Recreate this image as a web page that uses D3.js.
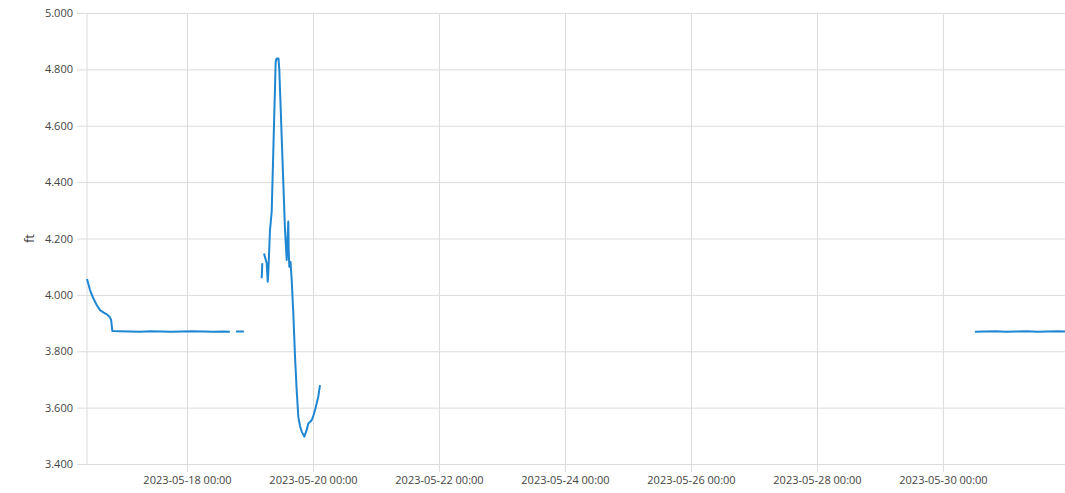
<!DOCTYPE html>
<meta charset="utf-8">
<html>
<head>
  <title>Water level</title>
  <style>
    body { margin: 0; background: #fff; }
    svg { display: block; }
    .tick text {
      font-family: 'Open Sans', 'Noto Sans', sans-serif;
      font-size: 11px;
      fill: #444;
    }
    .grid line { stroke: #dcdcdc; stroke-width: 1px; }
    .grid path { display: none; }
    #line {
      fill: none;
      stroke: #1f87d2;
      stroke-width: 2px;
      stroke-linejoin: round;
    }
  </style>
  <script src="https://d3js.org/d3.v7.min.js"></script>
</head>
<body>
  <svg width="1065" height="493"></svg>
  <script>
    // readings (null = gap in the record)
    var times = [
      "2023-05-16 09:54", "2023-05-16 11:03", "2023-05-16 12:18", "2023-05-16 13:36",
      "2023-05-16 14:51", "2023-05-16 16:07", "2023-05-16 17:25", "2023-05-16 18:24",
      "2023-05-16 19:03", "2023-05-16 19:19", "2023-05-16 19:32", "2023-05-16 22:00",
      "2023-05-17 02:00", "2023-05-17 06:00", "2023-05-17 10:00", "2023-05-17 14:00",
      "2023-05-17 18:00", "2023-05-17 22:00", "2023-05-18 02:00", "2023-05-18 06:00",
      "2023-05-18 10:00", "2023-05-18 14:00", "2023-05-18 16:20", "2023-05-18 17:30",
      "2023-05-18 18:40", "2023-05-18 21:40", "2023-05-19 00:00",
      "2023-05-19 04:27", "2023-05-19 04:41", "2023-05-19 05:00",
      "2023-05-19 05:20", "2023-05-19 06:22", "2023-05-19 06:45", "2023-05-19 06:58",
      "2023-05-19 07:37", "2023-05-19 08:16", "2023-05-19 09:47", "2023-05-19 10:10",
      "2023-05-19 10:51", "2023-05-19 11:10", "2023-05-19 11:26", "2023-05-19 13:20",
      "2023-05-19 13:59", "2023-05-19 14:35", "2023-05-19 14:44", "2023-05-19 14:58",
      "2023-05-19 15:26", "2023-05-19 15:53", "2023-05-19 16:30", "2023-05-19 17:09",
      "2023-05-19 17:47", "2023-05-19 18:24", "2023-05-19 19:03", "2023-05-19 19:42",
      "2023-05-19 20:41", "2023-05-19 21:36", "2023-05-19 22:13", "2023-05-19 22:51",
      "2023-05-19 23:30", "2023-05-20 00:00", "2023-05-20 00:46", "2023-05-20 02:01",
      "2023-05-20 02:40", "2023-05-25 00:00",
      "2023-05-30 12:10", "2023-05-30 16:00", "2023-05-30 20:00", "2023-05-31 00:00",
      "2023-05-31 04:00", "2023-05-31 08:00", "2023-05-31 12:00", "2023-05-31 16:00",
      "2023-05-31 20:00", "2023-05-31 22:30"
    ];
    var levels = [
      4.056, 4.017, 3.988, 3.964,
      3.946, 3.938, 3.931, 3.923,
      3.913, 3.893, 3.872, 3.871,
      3.870, 3.869, 3.871, 3.870,
      3.869, 3.870, 3.871, 3.870,
      3.869, 3.870, 3.869, null,
      3.870, 3.870, null,
      4.059, 4.112, null,
      4.147, 4.112, 4.047, 4.077,
      4.230, 4.295, 4.827, 4.839,
      4.839, 4.798, 4.727, 4.230,
      4.124, 4.260, 4.159, 4.100,
      4.117, 4.053, 3.935, 3.781,
      3.663, 3.568, 3.535, 3.515,
      3.497, 3.521, 3.544, 3.549,
      3.556, 3.567, 3.591, 3.639,
      3.680, null,
      3.869, 3.870, 3.871, 3.869,
      3.870, 3.871, 3.869, 3.870,
      3.871, 3.870
    ];
    var yTicks = [3.4, 3.6, 3.8, 4.0, 4.2, 4.4, 4.6, 4.8, 5.0];
    var xTickDates = ["2023-05-18", "2023-05-20", "2023-05-22", "2023-05-24",
                      "2023-05-26", "2023-05-28", "2023-05-30"];

    var svg = d3.select("svg");
    var margin = {top: 13, right: 0, bottom: 29, left: 87};
    var width = 1065 - margin.left - margin.right;
    var height = 493 - margin.top - margin.bottom;

    var parseTime = d3.timeParse("%Y-%m-%d %H:%M");
    var parseDay = d3.timeParse("%Y-%m-%d");

    var data = times.map(function(t, i) {
      return {time: parseTime(t), level: levels[i]};
    });

    var x = d3.scaleTime()
      .domain(d3.extent(data, function(d) { return d.time; }))
      .range([0, width]);
    var y = d3.scaleLinear().domain([3.4, 5.0]).range([height, 0]);

    var g = svg.append("g")
      .attr("transform", "translate(" + margin.left + "," + margin.top + ")");

    // horizontal grid + y labels (grid lines poke 10px left of the plot)
    g.append("g")
      .attr("class", "grid")
      .attr("transform", "translate(-10,0)")
      .call(d3.axisLeft(y).tickValues(yTicks).tickFormat(d3.format(".3f"))
        .tickSize(-width - 10).tickPadding(4));

    // vertical grid + x labels (grid lines poke 8px below the plot)
    g.append("g")
      .attr("class", "grid")
      .attr("transform", "translate(0," + height + ")")
      .call(d3.axisBottom(x).tickValues(xTickDates.map(parseDay))
        .tickFormat(d3.timeFormat("%Y-%m-%d %H:%M"))
        .tickSize(8).tickPadding(4))
      .selectAll(".tick line").attr("y1", -height);

    // left edge
    g.append("line")
      .attr("x1", 0).attr("x2", 0)
      .attr("y1", 0).attr("y2", height)
      .attr("stroke", "#dcdcdc");

    g.append("path")
      .datum(data)
      .attr("id", "line")
      .attr("d", d3.line()
        .defined(function(d) { return d.level !== null; })
        .x(function(d) { return x(d.time); })
        .y(function(d) { return y(d.level); }));

    svg.append("text")
      .attr("transform", "translate(34," + (margin.top + y(4.2)) + ") rotate(-90)")
      .attr("text-anchor", "middle")
      .attr("font-family", "'Open Sans', 'Noto Sans', sans-serif")
      .attr("font-size", "13px")
      .attr("fill", "#333")
      .text("ft");
  </script>
</body>
</html>
